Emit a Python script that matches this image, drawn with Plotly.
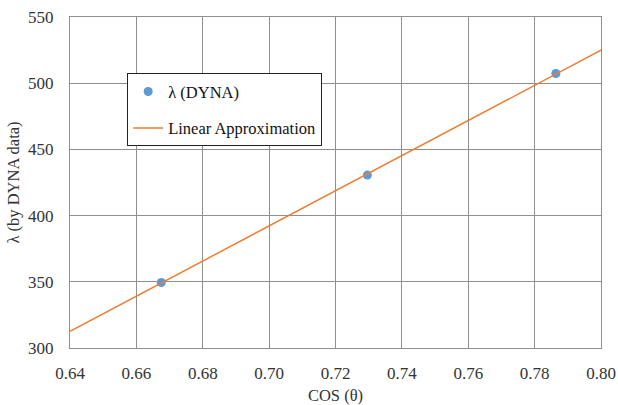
import numpy as np
import plotly.graph_objects as go

cos_theta = [0.6675, 0.7296, 0.7864]
lam = [349.5, 430.6, 507.3]
x_range = [0.64, 0.80]

slope, intercept = np.polyfit(cos_theta, lam, 1)
line_x = x_range
line_y = [slope * v + intercept for v in line_x]

FONT = "'Liberation Serif', 'Times New Roman', serif"
GRID = "#8f8f8f"
TXT = "#333333"

fig = go.Figure()
fig.add_trace(go.Scatter(
    x=cos_theta, y=lam, mode="markers", name="λ (DYNA)",
    marker=dict(color="#5B9BD5", size=9), legendgroup="a"))
fig.add_trace(go.Scatter(
    x=line_x, y=line_y, mode="lines", name="Linear Approximation",
    line=dict(color="#ED7D31", width=1.5), legendgroup="b"))

axis_common = dict(showgrid=True, gridcolor=GRID, gridwidth=1,
                   showline=True, linecolor=GRID, linewidth=1, mirror=True,
                   zeroline=False, ticks="", automargin=False,
                   tickfont=dict(family=FONT, size=17, color=TXT),
                   title_font=dict(family=FONT, size=16.5, color=TXT))

fig.update_xaxes(range=x_range, dtick=0.02, tickformat=".2f",
                 ticklabelstandoff=10,
                 title_text="COS (θ)", title_standoff=8, **axis_common)
fig.update_yaxes(range=[300, 550], dtick=50, ticklabelstandoff=12,
                 title_text="λ (by DYNA data)", title_standoff=4, **axis_common)

fig.update_layout(
    width=618, height=405,
    margin=dict(l=69.5, r=17.2, t=17, b=57),
    paper_bgcolor="white", plot_bgcolor="white",
    font=dict(family=FONT, size=16, color="#111111"),
    showlegend=True,
    legend=dict(x=0.1077, y=0.83, xanchor="left", yanchor="top",
                bgcolor="white", bordercolor="#222222", borderwidth=1,
                tracegroupgap=12, traceorder="grouped", itemwidth=30,
                font=dict(family=FONT, size=16.5, color="#111111")),
)

fig.write_html("out.html")
